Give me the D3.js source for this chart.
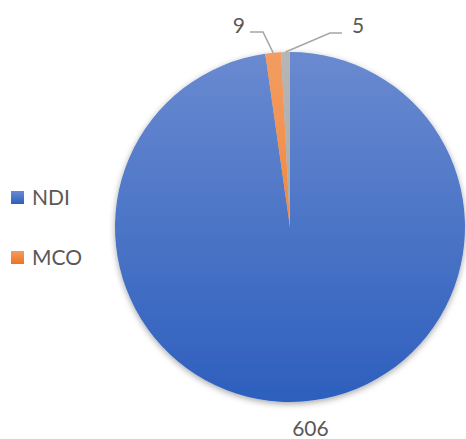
<!DOCTYPE html>
<html><head><meta charset="utf-8">
<script src="https://cdn.jsdelivr.net/npm/d3@7"></script>
<style>html,body{margin:0;padding:0;background:#fff;overflow:hidden}</style>
</head><body>
<svg id="c" width="466" height="439"></svg>
<script>
const categories = ["NDI", "MCO", "Other"];
const values = [606, 9, 5];
const legendItems = ["NDI", "MCO"];
const lightColors = ["#6A8AD0", "#F39C61", "#B6B6B6"];
const darkColors = ["#2D5FBD", "#EC7420", "#9E9E9E"];

const svg = d3.select("#c");
const cx = 290, cy = 227, R = 175;
const font = "Lato, 'Open Sans', sans-serif";
const fs = 21;
const textColor = "#595959";

const defs = svg.append("defs");
const f = defs.append("filter").attr("id", "sh").attr("x", "-10%").attr("y", "-10%").attr("width", "120%").attr("height", "120%");
f.append("feDropShadow").attr("dx", 0).attr("dy", 2).attr("stdDeviation", 3).attr("flood-color", "#000").attr("flood-opacity", 0.35);

categories.forEach((c, i) => {
  const g = defs.append("linearGradient").attr("id", "g" + i)
    .attr("gradientUnits", "userSpaceOnUse")
    .attr("x1", 0).attr("y1", -R).attr("x2", 0).attr("y2", R);
  g.append("stop").attr("offset", "0%").attr("stop-color", lightColors[i]);
  g.append("stop").attr("offset", "100%").attr("stop-color", darkColors[i]);
});

const pie = d3.pie().sort(null).value(d => d)(values);
const arc = d3.arc().innerRadius(0).outerRadius(R);

const gp = svg.append("g").attr("transform", `translate(${cx},${cy})`);
gp.append("g").attr("filter", "url(#sh)")
  .selectAll("path").data(pie).join("path")
  .attr("d", arc)
  .attr("fill", (d, i) => `url(#g${i})`);

// data labels
const labelCfg = [
  { dx: 8, dy: 209, anchor: "middle", leader: false },
  { elbow: [-27, -195], end: [-40, -195], tx: -45, ty: -194, anchor: "end", leader: true },
  { elbow: [40, -194], end: [52, -194], tx: 68, ty: -194, anchor: "middle", leader: true }
];
pie.forEach((d, i) => {
  const cfg = labelCfg[i];
  const a = (d.startAngle + d.endAngle) / 2;
  const px = Math.sin(a) * R, py = -Math.cos(a) * R;
  if (cfg.leader) {
    gp.append("polyline")
      .attr("points", [[px, py], cfg.elbow, cfg.end].map(p => p.join(",")).join(" "))
      .attr("fill", "none").attr("stroke", "#A6A6A6").attr("stroke-width", 1.5);
    gp.append("text").attr("x", cfg.tx).attr("y", cfg.ty)
      .attr("text-anchor", cfg.anchor).attr("font-family", font).attr("font-size", fs)
      .attr("fill", textColor).text(d.data);
  } else {
    gp.append("text").attr("x", px + cfg.dx).attr("y", cfg.dy)
      .attr("text-anchor", cfg.anchor).attr("font-family", font).attr("font-size", fs)
      .attr("fill", textColor).text(d.data);
  }
});

// legend
const lg = svg.append("g").attr("transform", "translate(11,191)");
legendItems.forEach((name, i) => {
  const idx = categories.indexOf(name);
  const row = lg.append("g").attr("transform", `translate(0,${i * 60})`);
  const lgGrad = defs.append("linearGradient").attr("id", "lg" + i).attr("x1", 0).attr("y1", 0).attr("x2", 0).attr("y2", 1);
  lgGrad.append("stop").attr("offset", "0%").attr("stop-color", lightColors[idx]);
  lgGrad.append("stop").attr("offset", "100%").attr("stop-color", darkColors[idx]);
  row.append("rect").attr("width", 13).attr("height", 13).attr("fill", `url(#lg${i})`);
  row.append("text").attr("x", 21).attr("y", 14).attr("font-family", font).attr("font-size", fs)
    .attr("fill", textColor).text(name);
});
</script>
</body></html>
